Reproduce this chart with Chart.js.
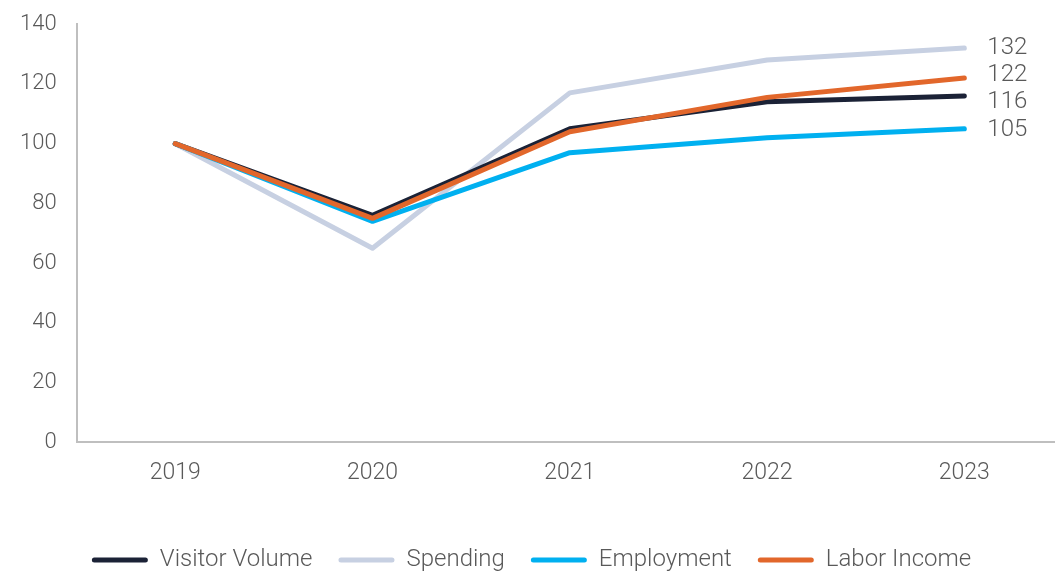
<!DOCTYPE html>
<html>
<head>
<meta charset="utf-8">
<script src="https://cdn.jsdelivr.net/npm/chart.js@4/dist/chart.umd.min.js"></script>
<style>
  html, body { margin: 0; padding: 0; background: #fff; overflow: hidden; }
  #wrap { width: 1063px; height: 582px; margin-top: -9px; }
</style>
</head>
<body>
<div id="wrap"><canvas id="myChart"></canvas></div>
<script>
const years = ['2019', '2020', '2021', '2022', '2023'];
const visitorVolume = [100, 76, 105, 114, 116];
const spending = [100, 65, 117, 128, 132];
const employment = [100, 74, 97, 102, 105];
const laborIncome = [100, 75, 104, 115.5, 122];
const yTicks = [0, 20, 40, 60, 80, 100, 120, 140];

const textColor = '#595959';
const fontFamily = 'Roboto';

// draws the last value next to each line, nudged apart so they don't collide
const endLabels = {
  id: 'endLabels',
  afterDatasetsDraw(chart) {
    const ctx = chart.ctx;
    const items = chart.data.datasets.map((ds, i) => {
      const meta = chart.getDatasetMeta(i);
      const pt = meta.data[meta.data.length - 1];
      return { x: pt.x, y: pt.y, text: String(Math.round(ds.data[ds.data.length - 1])) };
    }).sort((a, b) => a.y - b.y);
    const gap = 27;
    for (let k = 0; k < 20; k++) {
      for (let i = 0; i < items.length - 1; i++) {
        const d = items[i + 1].y - items[i].y;
        if (d < gap) {
          const push = (gap - d) / 2;
          items[i].y -= push;
          items[i + 1].y += push;
        }
      }
    }
    ctx.save();
    ctx.font = '300 24px ' + fontFamily;
    ctx.fillStyle = textColor;
    ctx.textBaseline = 'middle';
    ctx.textAlign = 'left';
    items.forEach(it => ctx.fillText(it.text, it.x + 23, it.y + 1));
    ctx.restore();
  }
};

const grapharea = document.getElementById('myChart');
grapharea.chart = new Chart(grapharea, {
  type: 'line',
  data: {
    labels: years,
    datasets: [
      { label: 'Visitor Volume', data: visitorVolume, borderColor: '#1b2236', backgroundColor: '#1b2236', order: 3 },
      { label: 'Spending', data: spending, borderColor: '#c7d0e2', backgroundColor: '#c7d0e2', order: 4 },
      { label: 'Employment', data: employment, borderColor: '#00b0f0', backgroundColor: '#00b0f0', order: 2 },
      { label: 'Labor Income', data: laborIncome, borderColor: '#e2672b', backgroundColor: '#e2672b', order: 1 }
    ].map(ds => Object.assign(ds, { borderWidth: 5, pointRadius: 0, tension: 0, borderCapStyle: 'round', borderJoinStyle: 'round' }))
  },
  plugins: [endLabels],
  options: {
    responsive: true,
    maintainAspectRatio: false,
    animation: false,
    layout: { padding: { left: 0, right: 0, top: 0, bottom: -9 } },
    scales: {
      x: {
        offset: true,
        grid: { display: false, drawTicks: false },
        border: { color: '#bfbfbf', width: 2 },
        ticks: { color: textColor, font: { family: fontFamily, size: 23, weight: 300 }, padding: 17 },
        afterFit: scale => { scale.height += 18; }
      },
      y: {
        min: 0,
        max: 140,
        afterBuildTicks: axis => { axis.ticks = yTicks.map(v => ({ value: v })); },
        grid: { display: false, drawTicks: false },
        border: { color: '#bfbfbf', width: 2 },
        ticks: { color: textColor, font: { family: fontFamily, size: 22, weight: 300 }, padding: 20 }
      }
    },
    plugins: {
      tooltip: { enabled: false },
      legend: {
        position: 'bottom',
        labels: {
          sort: (a, b) => a.datasetIndex - b.datasetIndex,
          generateLabels: chart => Chart.defaults.plugins.legend.labels.generateLabels(chart)
            .map(item => Object.assign(item, { lineWidth: 0 })),
          boxWidth: 56,
          boxHeight: 5,
          useBorderRadius: true,
          borderRadius: 2.5,
          padding: 26,
          color: textColor,
          font: { family: fontFamily, size: 24, weight: 300 }
        }
      }
    }
  }
});
</script>
</body>
</html>
